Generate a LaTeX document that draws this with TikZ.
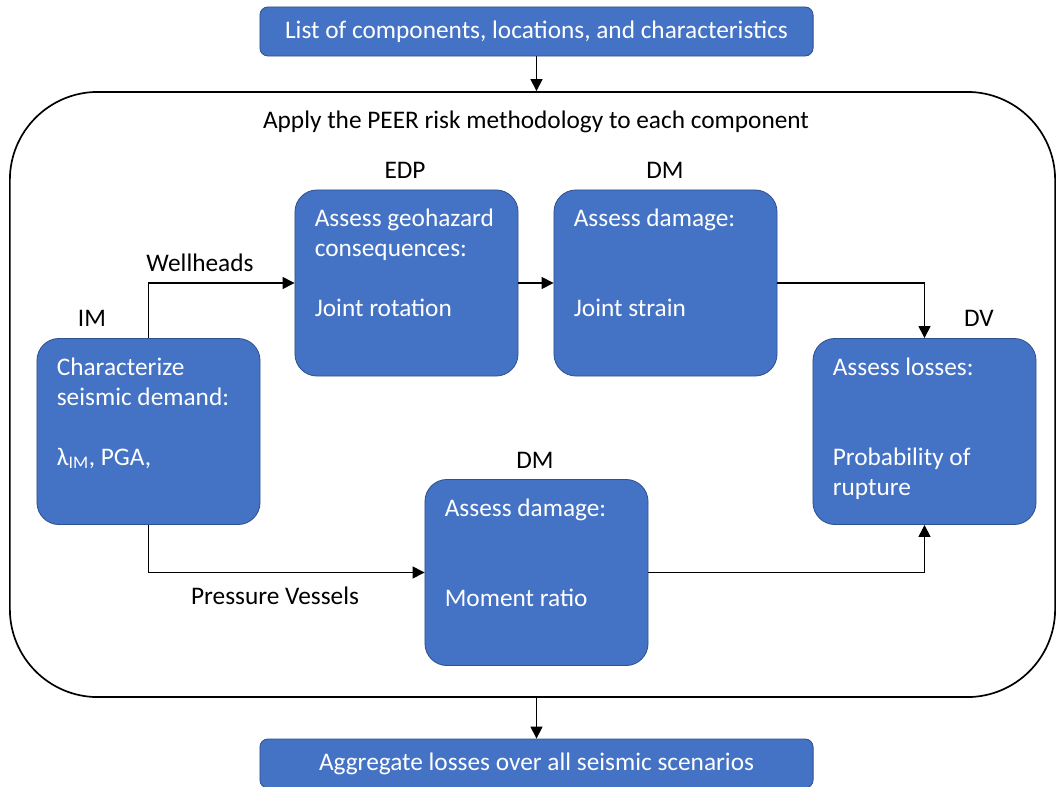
\documentclass[tikz,border=0pt]{standalone}
\usepackage{fontspec}
\setmainfont{Carlito}
\usetikzlibrary{arrows.meta}
\definecolor{boxblue}{HTML}{4472C4}
\definecolor{boxedge}{HTML}{2F528F}

\begin{document}
\begin{tikzpicture}[x=0.025cm, y=-0.025cm,
    every node/.style={font=\fontsize{18}{21.3}\selectfont},
    stepbox/.style={draw=boxedge, fill=boxblue, line width=0.6pt, rounded corners=0.55cm,
        minimum width=5.575cm, minimum height=4.65cm, inner sep=0pt},
    widebox/.style={draw=boxedge, fill=boxblue, line width=0.6pt, rounded corners=0.2cm,
        minimum width=13.825cm, minimum height=1.225cm, inner sep=0pt, text=white},
    steptext/.style={anchor=north west, align=left, inner sep=0pt, text=white},
    tag/.style={inner sep=0pt, text depth=0pt},
    arr/.style={line width=1pt, -{Triangle[length=8.5pt, width=8.5pt]}}]
    \useasboundingbox (0,0) rectangle (1057,787);

    % outer frame
    \node[draw, line width=1.2pt, rounded corners=2.2cm, minimum width=26.125cm,
        minimum height=15.125cm, inner sep=0pt] (frame) at (532.5,394.5) {};
    \node[tag] (title) at (536,120) {Apply the PEER risk methodology to each component};

    % input and output
    \node[widebox] (list) at (536.5,31.5) {List of components, locations, and characteristics};
    \node[widebox] (aggr) at (536.5,763.5) {Aggregate losses over all seismic scenarios};

    % steps
    \node[stepbox] (im) at (148.5,431.5) {};
    \node[stepbox] (edp) at (406.5,283) {};
    \node[stepbox] (dma) at (665.5,283) {};
    \node[stepbox] (dmb) at (536.5,572.5) {};
    \node[stepbox] (dv) at (924.5,431.5) {};

    \node[steptext] (imtxt) at ([shift={(20,16)}]im.north west)
        {\strut Characterize\\ seismic demand:\\[\baselineskip] λ\textsubscript{IM}, PGA,};
    \node[steptext] (edptxt) at ([shift={(20,16)}]edp.north west)
        {\strut Assess geohazard\\ consequences:\\[\baselineskip] Joint rotation};
    \node[steptext] (dmatxt) at ([shift={(20,16)}]dma.north west)
        {\strut Assess damage:\\[2\baselineskip] Joint strain};
    \node[steptext] (dmbtxt) at ([shift={(20,16)}]dmb.north west)
        {\strut Assess damage:\\[2\baselineskip] Moment ratio};
    \node[steptext] (dvtxt) at ([shift={(20,16)}]dv.north west)
        {\strut Assess losses:\\[2\baselineskip] Probability of\\ rupture};

    % variable names
    \node[tag] (imlbl) at (92,318) {IM};
    \node[tag] (edplbl) at (405,170) {EDP};
    \node[tag] (dmalbl) at (665,170) {DM};
    \node[tag] (dmblbl) at (535,460) {DM};
    \node[tag] (dvlbl) at (979,318) {DV};
    \node[tag] (well) at (200,263) {Wellheads};
    \node[tag] (vess) at (275,596) {Pressure Vessels};

    % connectors
    \draw[arr] (list.south) to (list.south |- frame.north);
    \draw[arr] (aggr.north |- frame.south) to (aggr.north);
    \draw[arr] (im.north) |- (edp.west);
    \draw[arr] (edp.east) to (dma.west);
    \draw[arr] (dma.east) -| (dv.north);
    \draw[arr] (im.south) |- (dmb.west);
    \draw[arr] (dmb.east) -| (dv.south);
\end{tikzpicture}
\end{document}
